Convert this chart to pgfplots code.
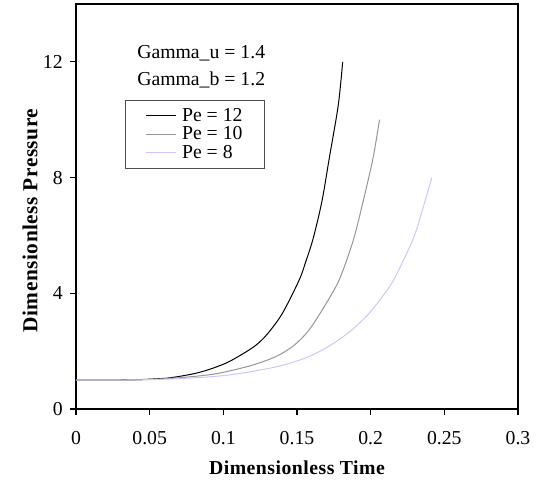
\documentclass[border=0pt]{standalone}
\usepackage{pgfplots}
\pgfplotsset{compat=1.18}
\usepackage{fontspec}
\setmainfont{Liberation Serif}

\definecolor{pegray}{RGB}{150,150,150}
\definecolor{pelav}{RGB}{200,200,255}

\begin{document}
\begin{tikzpicture}
\begin{axis}[
    scale only axis,
    width=331.5pt, height=303.75pt,
    xmin=0, xmax=0.3, ymin=0, ymax=14,
    xtick={0,0.05,...,0.3},
    ytick={0,4,8,12},
    xticklabels={0,0.05,0.1,0.15,0.2,0.25,0.3},
    tick align=outside,
    major tick length=4.5pt,
    tick style={black, line width=0.8pt},
    axis line style={line width=1.2pt},
    x tick label style={font=\fontsize{14.8}{16}\selectfont, yshift=-9pt},
    y tick label style={font=\fontsize{14.8}{16}\selectfont, xshift=-2pt},
    /pgf/number format/assume math mode=true,
    xtick pos=bottom, ytick pos=left,
    xlabel={Dimensionless Time},
    ylabel={Dimensionless Pressure},
    xlabel style={font=\bfseries\fontsize{14.8}{16}\selectfont\addfontfeature{LetterSpace=2.5}, at={(axis description cs:0.5,-0.146)}, anchor=center},
    ylabel style={font=\bfseries\fontsize{16}{18}\selectfont\addfontfeature{LetterSpace=2.5}, at={(axis description cs:-0.104,0.465)}, anchor=center},
    clip=false,
    legend cell align=left,
    legend style={at={(axis cs:0.0333,10.69)}, anchor=north west,
        draw=black!70, line width=0.6pt, inner xsep=15pt, inner ysep=5pt,
        font=\fontsize{14.8}{14.6}\selectfont,
        nodes={inner sep=1.2pt}, row sep=0pt, column sep=3pt},
    legend image code/.code={\draw[#1, line width=0.75pt] (0pt,0pt) -- (22.5pt,0pt);},
]
\addplot[black, line width=0.75pt, smooth] coordinates {
    (0,1) (0.02,1.0) (0.04,1.01) (0.06,1.06) (0.068,1.11) (0.08,1.22) (0.09,1.36)
    (0.102,1.59) (0.112,1.87) (0.122,2.2) (0.13,2.6) (0.14,3.3)
    (0.1514,4.45) (0.156,5.1) (0.161,5.9) (0.167,7.2) (0.172,8.7) (0.178,10.5) (0.181,12)
};
\addplot[pegray, line width=0.75pt, smooth] coordinates {
    (0,1) (0.03,1.0) (0.05,1.02) (0.07,1.08) (0.09,1.18) (0.102,1.29)
    (0.12,1.52) (0.136,1.82) (0.148,2.2) (0.158,2.72) (0.168,3.5)
    (0.1785,4.45) (0.188,5.8) (0.195,7.2) (0.2017,8.7) (0.206,10)
};
\addplot[pelav, line width=0.75pt, smooth] coordinates {
    (0,1) (0.03,1.0) (0.06,1.03) (0.09,1.11) (0.11,1.22) (0.136,1.46)
    (0.155,1.75) (0.170,2.12) (0.185,2.64) (0.197,3.2) (0.207,3.82)
    (0.216,4.5) (0.229,5.9) (0.2357,6.98) (0.2415,8)
};
\legend{Pe = 12, Pe = 10, Pe = 8}
\node[anchor=base west, font=\fontsize{14.8}{16}\selectfont, inner sep=0pt] at (axis cs:0.0414,12.10) {Gamma\_u = 1.4};
\node[anchor=base west, font=\fontsize{14.8}{16}\selectfont, inner sep=0pt] at (axis cs:0.0414,11.17) {Gamma\_b = 1.2};
\end{axis}
\path ([shift={(-57pt,-60.75pt)}]current axis.south west) rectangle ([shift={(15pt,3pt)}]current axis.north east);
\end{tikzpicture}
\end{document}
